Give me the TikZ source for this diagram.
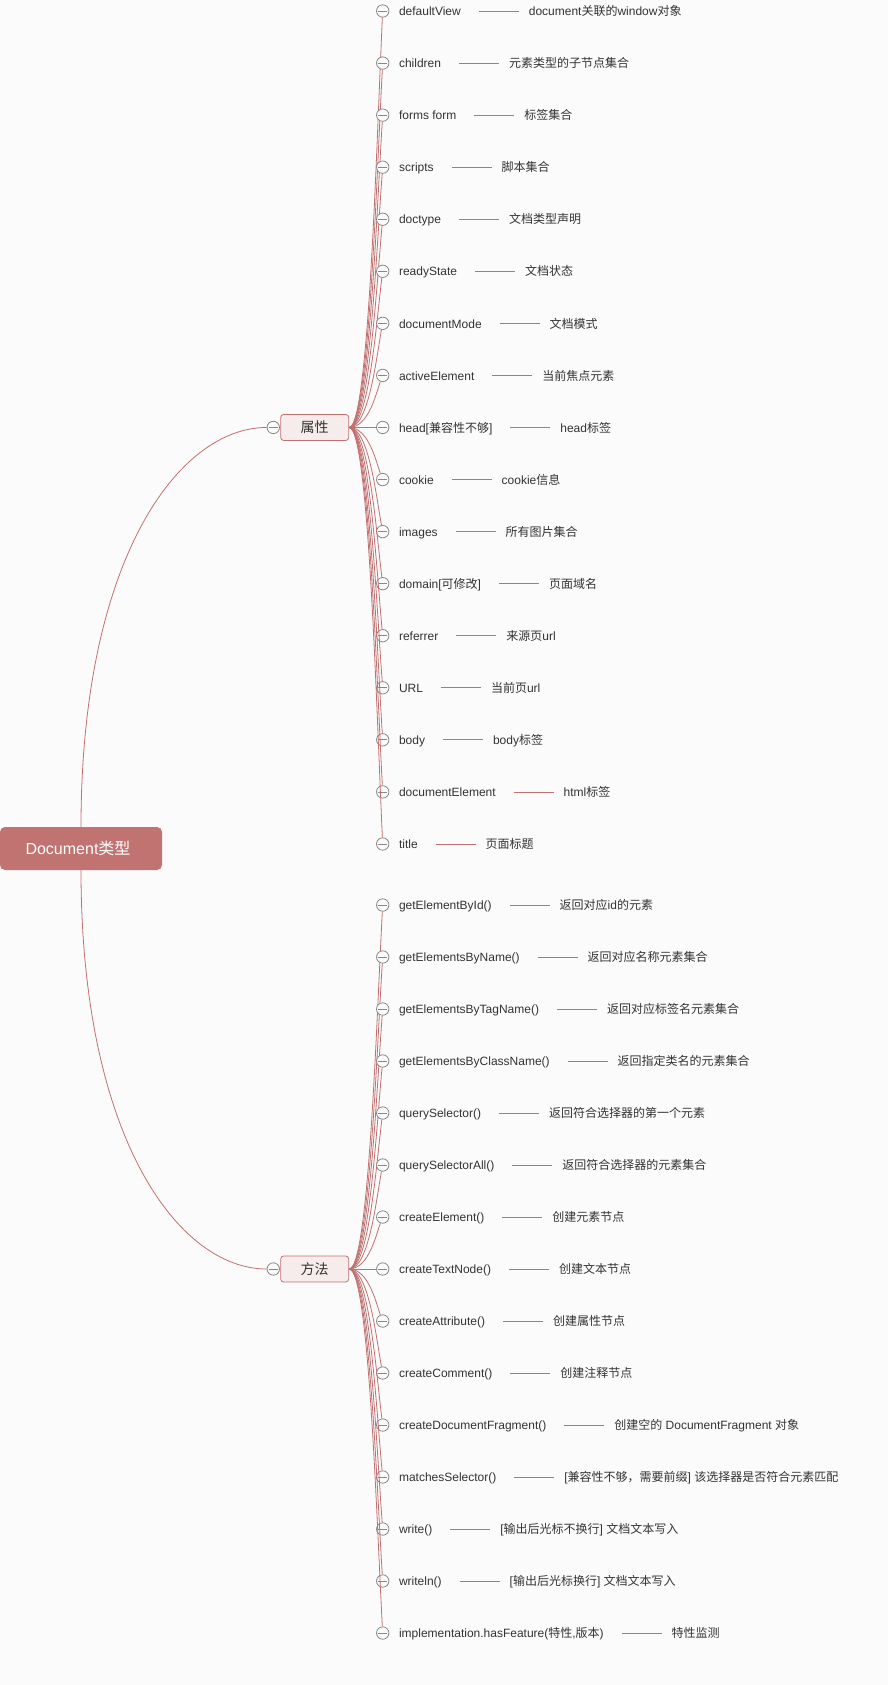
\documentclass[tikz,border=0pt]{standalone}
\usepackage{fontspec}
\setmainfont{Liberation Sans}
\newfontfamily\cjk{Noto Sans CJK SC}
\newcommand\zh[1]{{\cjk #1}}
\definecolor{bgc}{RGB}{251,251,251}
\definecolor{brc}{RGB}{192,112,110}
\definecolor{rootc}{RGB}{192,115,112}
\definecolor{subfill}{RGB}{246,236,236}
\definecolor{tgc}{RGB}{136,136,136}
\definecolor{txc}{RGB}{51,51,51}
\tikzset{
  branch/.style={draw=brc, line width=0.8pt},
  tog/.style={circle, draw=tgc, fill=bgc, line width=0.8pt, minimum size=12.4pt, inner sep=0pt,
    path picture={\draw[tgc,line width=0.8pt] ([xshift=-4.4pt]path picture bounding box.center) -- ([xshift=4.4pt]path picture bounding box.center);}},
  lbl/.style={anchor=west, inner sep=0pt, outer sep=0pt, text height=9.4pt, text depth=0pt, text=txc, font=\fontsize{12}{14}\selectfont},
  link/.style={draw=brc, line width=0.8pt, shorten <=18pt, shorten >=10pt},
  subbox/.style={draw=brc, fill=subfill, line width=0.8pt, rounded corners=3pt, minimum width=68pt, minimum height=26pt, inner sep=0pt, text=txc, font=\fontsize{14}{16}\selectfont},
  rootbox/.style={fill=rootc, rounded corners=5pt, minimum width=162pt, minimum height=43pt, inner sep=0pt, text=white, font=\fontsize{16}{18}\selectfont}
}
% #1 id, #2 y, #3 parent node, #4 parent y, #5 name, #6 description
\newcommand\mmleaf[6]{%
  \node[tog] (c#1) at (382.7,#2) {};
  \draw[branch] (#3.east) .. controls +(20,0) and +(-6,{0.3*(#4-#2)}) .. (c#1);
  \node[lbl] (n#1) at (399,#2) {#5};
  \node[lbl] (d#1) at ([xshift=68pt]n#1.east) {#6};
  \draw[link] (n#1) -- (d#1);
}
\begin{document}
\begin{tikzpicture}[x=1pt,y=-1pt]
\fill[bgc] (0,0) rectangle (888,1685);
\useasboundingbox (0,0) rectangle (888,1685);

\node[rootbox] (root) at (81,848.5) {\hspace*{-6pt}Document\zh{类型}};

\node[subbox] (attr) at (314.7,427.48) {\zh{属性}};
\node[tog] (ta) at (273.3,427.48) {};
\node[subbox] (meth) at (314.7,1269) {\zh{方法}};
\node[tog] (tm) at (273.3,1269) {};

\draw[branch] (root.north) .. controls +(0,-267) and +(-95,0) .. (ta);
\draw[branch] (root.south) .. controls +(0,267) and +(-95,0) .. (tm);

\mmleaf{p0}{11}{attr}{427.48}{defaultView}{document\zh{关联的}window\zh{对象}}
\mmleaf{p1}{63.06}{attr}{427.48}{children}{\zh{元素类型的子节点集合}}
\mmleaf{p2}{115.12}{attr}{427.48}{forms form}{\zh{标签集合}}
\mmleaf{p3}{167.18}{attr}{427.48}{scripts}{\zh{脚本集合}}
\mmleaf{p4}{219.24}{attr}{427.48}{doctype}{\zh{文档类型声明}}
\mmleaf{p5}{271.3}{attr}{427.48}{readyState}{\zh{文档状态}}
\mmleaf{p6}{323.36}{attr}{427.48}{documentMode}{\zh{文档模式}}
\mmleaf{p7}{375.42}{attr}{427.48}{activeElement}{\zh{当前焦点元素}}
\mmleaf{p8}{427.48}{attr}{427.48}{head[\zh{兼容性不够}]}{head\zh{标签}}
\mmleaf{p9}{479.54}{attr}{427.48}{cookie}{cookie\zh{信息}}
\mmleaf{p10}{531.6}{attr}{427.48}{images}{\zh{所有图片集合}}
\mmleaf{p11}{583.66}{attr}{427.48}{domain[\zh{可修改}]}{\zh{页面域名}}
\mmleaf{p12}{635.72}{attr}{427.48}{referrer}{\zh{来源页}url}
\mmleaf{p13}{687.78}{attr}{427.48}{URL}{\zh{当前页}url}
\mmleaf{p14}{739.84}{attr}{427.48}{body}{body\zh{标签}}
\mmleaf{p15}{791.9}{attr}{427.48}{documentElement}{html\zh{标签}}
\mmleaf{p16}{843.96}{attr}{427.48}{title}{\zh{页面标题}}

\mmleaf{m0}{905}{meth}{1269}{getElementById()}{\zh{返回对应}id\zh{的元素}}
\mmleaf{m1}{957}{meth}{1269}{getElementsByName()}{\zh{返回对应名称元素集合}}
\mmleaf{m2}{1009}{meth}{1269}{getElementsByTagName()}{\zh{返回对应标签名元素集合}}
\mmleaf{m3}{1061}{meth}{1269}{getElementsByClassName()}{\zh{返回指定类名的元素集合}}
\mmleaf{m4}{1113}{meth}{1269}{querySelector()}{\zh{返回符合选择器的第一个元素}}
\mmleaf{m5}{1165}{meth}{1269}{querySelectorAll()}{\zh{返回符合选择器的元素集合}}
\mmleaf{m6}{1217}{meth}{1269}{createElement()}{\zh{创建元素节点}}
\mmleaf{m7}{1269}{meth}{1269}{createTextNode()}{\zh{创建文本节点}}
\mmleaf{m8}{1321}{meth}{1269}{createAttribute()}{\zh{创建属性节点}}
\mmleaf{m9}{1373}{meth}{1269}{createComment()}{\zh{创建注释节点}}
\mmleaf{m10}{1425}{meth}{1269}{createDocumentFragment()}{\zh{创建空的} DocumentFragment \zh{对象}}
\mmleaf{m11}{1477}{meth}{1269}{matchesSelector()}{[\zh{兼容性不够，需要前缀}] \zh{该选择器是否符合元素匹配}}
\mmleaf{m12}{1529}{meth}{1269}{write()}{[\zh{输出后光标不换行}] \zh{文档文本写入}}
\mmleaf{m13}{1581}{meth}{1269}{writeln()}{[\zh{输出后光标换行}] \zh{文档文本写入}}
\mmleaf{m14}{1633}{meth}{1269}{implementation.hasFeature(\zh{特性},\zh{版本})}{\zh{特性监测}}
\end{tikzpicture}
\end{document}
